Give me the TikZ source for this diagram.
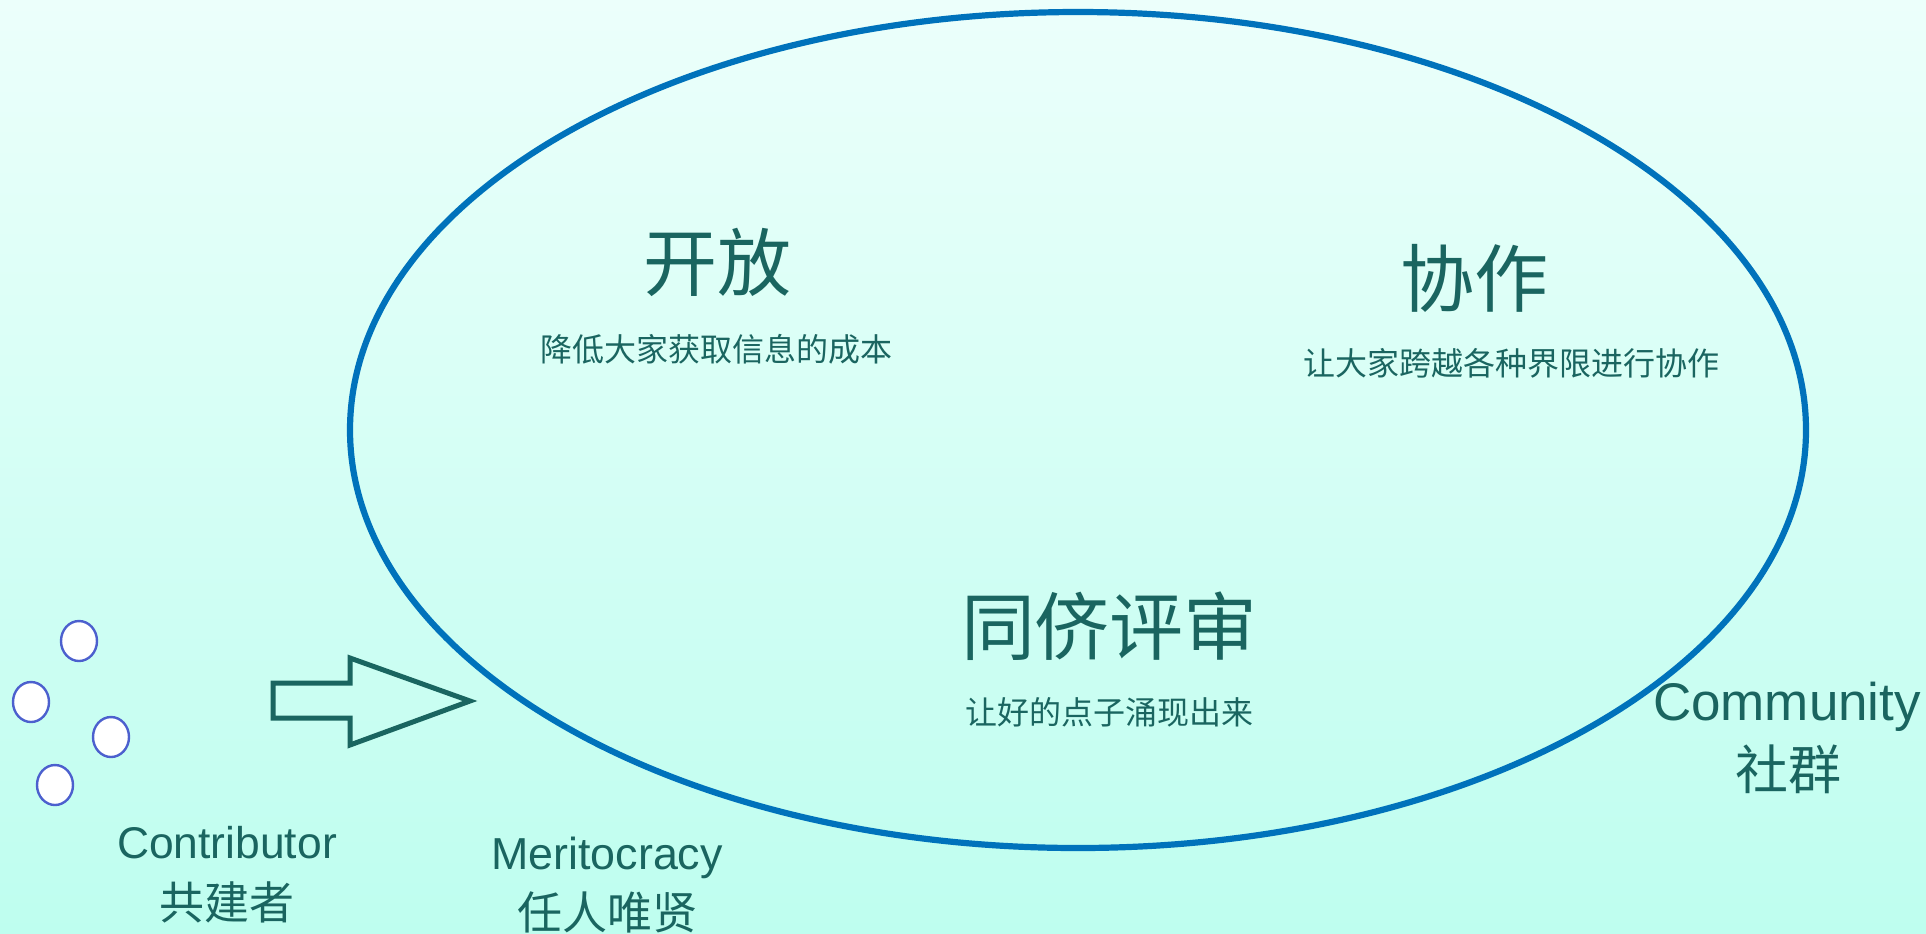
\documentclass[tikz,border=0pt]{standalone}
\usepackage{fontspec}
\setmainfont{Liberation Sans}
\newfontfamily\cjk{Noto Sans CJK SC}
\usetikzlibrary{shapes.geometric}
\definecolor{tealtext}{RGB}{26,101,96}
\definecolor{ringblue}{RGB}{0,114,187}
\definecolor{dotblue}{RGB}{76,96,206}
\definecolor{bgtop}{RGB}{236,255,251}
\definecolor{bgbot}{RGB}{190,254,239}

\begin{document}
\begin{tikzpicture}[x=0.5pt,y=0.5pt,yscale=-1,xscale=1,
  bigword/.style={text=tealtext,inner sep=0pt,font=\cjk\fontsize{37}{40}\selectfont},
  smallword/.style={text=tealtext,inner sep=0pt,font=\cjk\fontsize{16}{18}\selectfont},
  enword/.style={text=tealtext,inner sep=0pt,anchor=base},
  cnword/.style={text=tealtext,inner sep=0pt,font=\cjk\fontsize{22.5}{25}\selectfont},
  dot/.style={ellipse,draw=dotblue,line width=1.2pt,fill=white,minimum width=18pt,minimum height=20pt,inner sep=0pt}]
\useasboundingbox (0,0) rectangle (1926,933);

%Background
\shade [top color=bgtop,bottom color=bgbot] (0,0) rectangle (1926,933);

%Shapes: Ellipse
\draw [color=ringblue,line width=3.1pt] (1078,430) ellipse [x radius=728, y radius=418];

%Shapes: Circles
\node [dot] (c1) at (79,641) {};
\node [dot] (c2) at (31,702) {};
\node [dot] (c3) at (111,737) {};
\node [dot] (c4) at (55,785) {};

%Shapes: Right Arrow
\draw [color=tealtext,line width=2.5pt,line join=miter] (273,683) -- (350,683) -- (350,658) -- (470,701) -- (350,745) -- (350,718) -- (273,718) -- cycle ;

% Text Node
\node [bigword] (open) at (717,262) {开放};
% Text Node
\node [smallword] (opendesc) at (716,349) {降低大家获取信息的成本};
% Text Node
\node [bigword] (collab) at (1474,278) {协作};
% Text Node
\node [smallword] (collabdesc) at (1511,363) {让大家跨越各种界限进行协作};
% Text Node
\node [bigword] (peer) at (1109,626) {同侪评审};
% Text Node
\node [smallword] (peerdesc) at (1109,712) {让好的点子涌现出来};
% Text Node
\node [enword,font=\fontsize{26.5}{30}\selectfont] (community) at (1787,720) {Community};
% Text Node
\node [cnword,font=\cjk\fontsize{26.5}{30}\selectfont] (communitycn) at (1788,769) {社群};
% Text Node
\node [enword,font=\fontsize{22.2}{25}\selectfont] (contrib) at (227,858) {Contributor};
% Text Node
\node [cnword] (contribcn) at (227,902) {共建者};
% Text Node
\node [enword,font=\fontsize{22.4}{25}\selectfont] (merit) at (607,869) {Meritocracy};
% Text Node
\node [cnword] (meritcn) at (607,912) {任人唯贤};
\end{tikzpicture}
\end{document}
